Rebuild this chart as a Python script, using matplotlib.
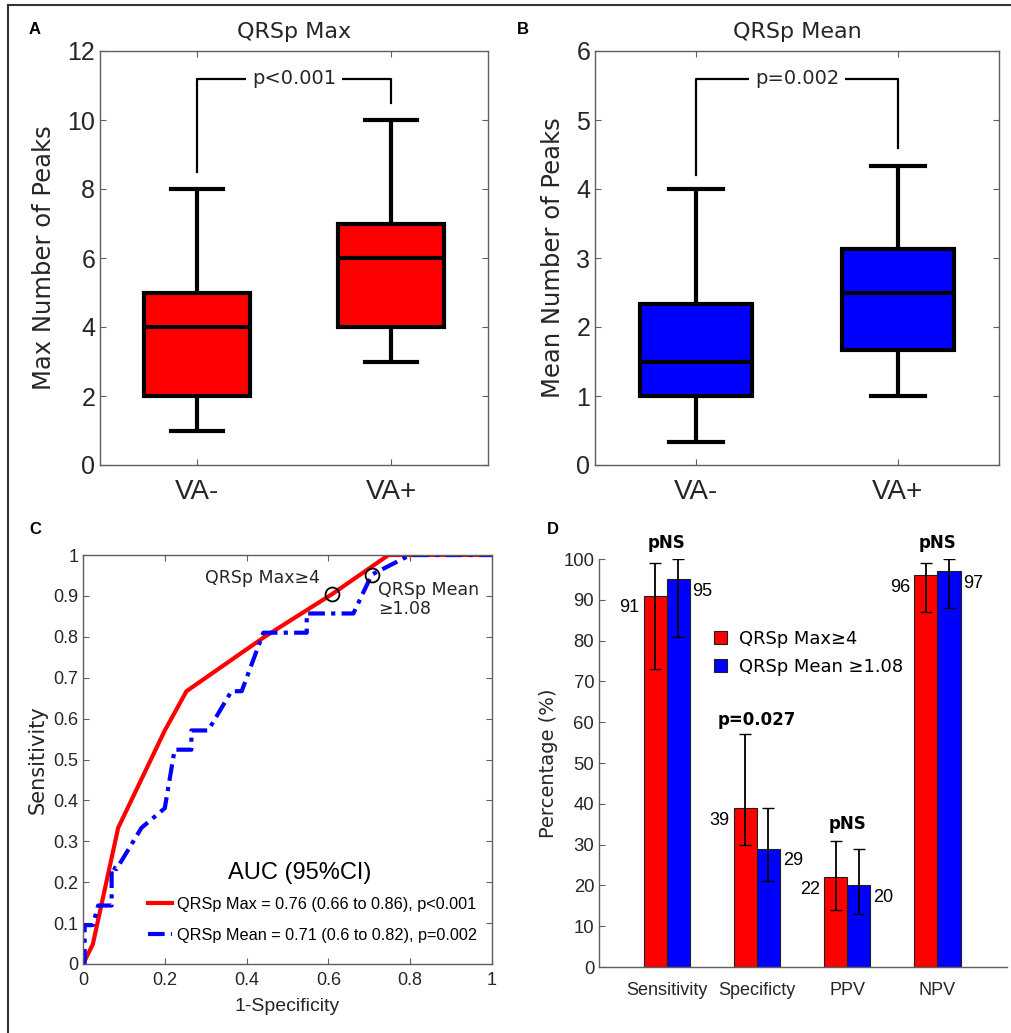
"""Four-panel QRS peak figure: box plots, ROC curves and diagnostic bars."""
import matplotlib.pyplot as plt
from matplotlib.lines import Line2D

# ---- data -------------------------------------------------------------
groups = ["VA-", "VA+"]

# panel A: max number of peaks
max_whislo = [1, 3]
max_q1 = [2, 4]
max_med = [4, 6]
max_q3 = [5, 7]
max_whishi = [8, 10]

# panel B: mean number of peaks
mean_whislo = [0.33, 1.0]
mean_q1 = [1.0, 1.67]
mean_med = [1.5, 2.5]
mean_q3 = [2.33, 3.13]
mean_whishi = [4.0, 4.33]

# panel C: ROC curves (1-specificity, sensitivity)
roc_max_fpr = [0, 0.024, 0.086, 0.2, 0.253, 0.444, 0.61, 0.747, 1.0]
roc_max_tpr = [0, 0.048, 0.333, 0.571, 0.667, 0.8, 0.905, 1.0, 1.0]
roc_mean_fpr = [0, 0.004, 0.004, 0.024, 0.037, 0.07, 0.07, 0.082, 0.143, 0.2,
                0.224, 0.265, 0.265, 0.306, 0.363, 0.388, 0.441, 0.547, 0.547,
                0.661, 0.706, 0.8, 1.0]
roc_mean_tpr = [0, 0, 0.095, 0.095, 0.143, 0.143, 0.238, 0.232, 0.333, 0.381,
                0.524, 0.524, 0.571, 0.571, 0.667, 0.667, 0.81, 0.81, 0.857,
                0.857, 0.952, 1.0, 1.0]
cut_max = (0.61, 0.905)
cut_mean = (0.706, 0.952)

# panel D: diagnostic performance
metrics = ["Sensitivity", "Specificty", "PPV", "NPV"]
pct_max = [91, 39, 22, 96]
pct_max_lo = [73, 30, 14, 87]
pct_max_hi = [99, 57, 31, 99]
pct_mean = [95, 29, 20, 97]
pct_mean_lo = [81, 21, 13, 88]
pct_mean_hi = [100, 39, 29, 100]
p_labels = ["pNS", "p=0.027", "pNS", "pNS"]
p_label_y = [104, 60.5, 35, 104]

# ---- style ------------------------------------------------------------
SANS = "Liberation Sans"
VERD = "DejaVu Sans"
SPINE = "#5f5f5f"
TXT = "#262626"
RED = "#ff0000"
BLUE = "#0000ff"

W, H = 1011, 1033
fig = plt.figure(figsize=(W / 100, H / 100), dpi=100)


def px_axes(left, top, right, bottom):
    """Add axes from pixel box (origin top-left)."""
    return fig.add_axes([left / W, 1 - bottom / H, (right - left) / W, (bottom - top) / H])


def style_box_axes(ax, fs):
    for sp in ax.spines.values():
        sp.set_color(SPINE)
        sp.set_linewidth(1.0)
    ax.tick_params(direction="in", length=4, width=0.8, color=SPINE,
                   top=True, right=True, labelcolor=TXT, labelsize=fs)
    for lab in ax.get_xticklabels() + ax.get_yticklabels():
        lab.set_family(SANS)


def draw_boxes(ax, lo, q1, med, q3, hi, color, ylim, yticks, ylabel, title,
               bracket, ptext):
    stats = [dict(whislo=a, q1=b, med=c, q3=d, whishi=e, fliers=[])
             for a, b, c, d, e in zip(lo, q1, med, q3, hi)]
    lw = 3
    ax.bxp(stats, positions=[1, 2], widths=0.55, patch_artist=True,
           showfliers=False, capwidths=0.27,
           boxprops=dict(facecolor=color, edgecolor="black", linewidth=lw),
           medianprops=dict(color="black", linewidth=lw),
           whiskerprops=dict(color="black", linewidth=lw, solid_capstyle="butt"),
           capprops=dict(color="black", linewidth=lw))
    ax.set_xlim(0.5, 2.5)
    ax.set_ylim(*ylim)
    ax.set_yticks(yticks)
    ax.set_xticks([1, 2])
    ax.set_xticklabels(groups)
    style_box_axes(ax, 18)
    ax.tick_params(axis="x", labelsize=20, pad=10)
    ax.set_ylabel(ylabel, family=VERD, fontsize=17.5, color=TXT, labelpad=8)
    ax.set_title(title, family=VERD, fontsize=16, color=TXT, pad=9)
    left_low, top_y, right_low = bracket
    ax.plot([1, 1, 2, 2], [left_low, top_y, top_y, right_low], color="black", lw=1.6)
    ax.text(1.5, top_y, ptext, ha="center", va="center", family=VERD,
            fontsize=14, color=TXT,
            bbox=dict(facecolor="white", edgecolor="none", pad=4))


# ---- panel A ----------------------------------------------------------
ax_a = px_axes(100, 51, 488, 465)
draw_boxes(ax_a, max_whislo, max_q1, max_med, max_q3, max_whishi, RED,
           (0, 12), range(0, 13, 2), "Max Number of Peaks", "QRSp Max",
           (8.5, 11.2, 10.5), "p<0.001")

# ---- panel B ----------------------------------------------------------
ax_b = px_axes(595, 51, 999, 465)
draw_boxes(ax_b, mean_whislo, mean_q1, mean_med, mean_q3, mean_whishi, BLUE,
           (0, 6), range(0, 7), "Mean Number of Peaks", "QRSp Mean",
           (4.2, 5.6, 4.6), "p=0.002")

# ---- panel C ----------------------------------------------------------
ax_c = px_axes(83, 555, 492, 964)
ax_c.plot(roc_max_fpr, roc_max_tpr, color=RED, lw=3, solid_joinstyle="miter",
          label="QRSp Max = 0.76 (0.66 to 0.86), p<0.001")
ax_c.plot(roc_mean_fpr, roc_mean_tpr, color=BLUE, lw=3,
          linestyle=(0, (4, 1.5, 1, 1.5)),
          label="QRSp Mean = 0.71 (0.6 to 0.82), p=0.002")
ax_c.plot(*cut_max, marker="o", ms=10, mfc="none", mec="black", mew=1.3)
ax_c.plot(*cut_mean, marker="o", ms=10, mfc="none", mec="black", mew=1.3)
ax_c.text(0.58, 0.943, "QRSp Max\u22654", ha="right", va="center",
          family=VERD, fontsize=12.5, color=TXT)
ax_c.text(0.722, 0.892, "QRSp Mean\n\u22651.08", ha="left", va="center",
          family=VERD, fontsize=12.5, color=TXT, linespacing=1.05)
ax_c.text(0.53, 0.222, "AUC (95%CI)", ha="center", va="center",
          family=SANS, fontsize=17, color="black")
ax_c.set_xlim(0, 1)
ax_c.set_ylim(0, 1)
ax_c.set_xticks([0, 0.2, 0.4, 0.6, 0.8, 1])
ax_c.set_xticklabels(["0", "0.2", "0.4", "0.6", "0.8", "1"])
ax_c.set_yticks([i / 10 for i in range(11)])
ax_c.set_yticklabels(["0"] + [f"0.{i}" for i in range(1, 10)] + ["1"])
style_box_axes(ax_c, 13)
ax_c.tick_params(axis="x", pad=6)
ax_c.set_xlabel("1-Specificity", family=SANS, fontsize=14, color=TXT, labelpad=6)
ax_c.set_ylabel("Sensitivity", family=VERD, fontsize=15, color=TXT, labelpad=4)
ax_c.legend(loc="center left", bbox_to_anchor=(0.159, 0.108), frameon=False,
            prop=dict(family=SANS, size=11.7), handlelength=1.5,
            handletextpad=0.3, labelspacing=1.0, borderpad=0, borderaxespad=0)

# ---- panel D ----------------------------------------------------------
ax_d = px_axes(599, 559, 1007, 967)
pos = list(range(1, len(metrics) + 1))
bw = 0.255
x_red = [p - bw / 2 for p in pos]
x_blue = [p + bw / 2 for p in pos]
err_red = [[v - lo for v, lo in zip(pct_max, pct_max_lo)],
           [hi - v for v, hi in zip(pct_max, pct_max_hi)]]
err_blue = [[v - lo for v, lo in zip(pct_mean, pct_mean_lo)],
            [hi - v for v, hi in zip(pct_mean, pct_mean_hi)]]
bars_red = ax_d.bar(x_red, pct_max, bw, color=RED, edgecolor="#202020", lw=0.8,
                    yerr=err_red, capsize=4.5,
                    error_kw=dict(ecolor="black", elinewidth=1.3, capthick=1.0),
                    label="QRSp Max\u22654")
bars_blue = ax_d.bar(x_blue, pct_mean, bw, color=BLUE, edgecolor="#202020", lw=0.8,
                     yerr=err_blue, capsize=4.5,
                     error_kw=dict(ecolor="black", elinewidth=1.3, capthick=1.0),
                     label="QRSp Mean \u22651.08")
for x, v in zip(x_red, pct_max):
    ax_d.text(x - bw / 2 - 0.05, v - 3, str(v), ha="right", va="center",
              family=SANS, fontsize=13, color="black")
for x, v in zip(x_blue, pct_mean):
    ax_d.text(x + bw / 2 + 0.03, v - 3, str(v), ha="left", va="center",
              family=SANS, fontsize=13, color="black")
for p, lab, y in zip(pos, p_labels, p_label_y):
    ax_d.text(p, y, lab, ha="center", va="center", family=VERD,
              fontsize=12, fontweight="bold", color="black", clip_on=False)
ax_d.set_xlim(0.25, 4.77)
ax_d.set_ylim(0, 100)
ax_d.set_yticks(range(0, 101, 10))
ax_d.set_xticks(pos)
ax_d.set_xticklabels(metrics)
for side in ("top", "right"):
    ax_d.spines[side].set_visible(False)
for side in ("left", "bottom"):
    ax_d.spines[side].set_color(SPINE)
    ax_d.spines[side].set_linewidth(1.0)
ax_d.tick_params(axis="y", direction="in", length=4, width=0.8, color=SPINE,
                 labelcolor=TXT, labelsize=13.3)
ax_d.tick_params(axis="x", length=0, labelcolor=TXT, labelsize=13, pad=11)
for lab in ax_d.get_xticklabels() + ax_d.get_yticklabels():
    lab.set_family(SANS)
ax_d.set_ylabel("Percentage (%)", family=VERD, fontsize=14, color=TXT, labelpad=4)
ax_d.legend(handles=[bars_red, bars_blue], loc="center left",
            bbox_to_anchor=(0.282, 0.77), frameon=False,
            prop=dict(family=VERD, size=12.9), handlelength=0.7, handleheight=0.7,
            handletextpad=0.7, labelspacing=0.55, borderpad=0, borderaxespad=0)

# ---- panel letters and frame -------------------------------------------
for letter, (x, y) in zip("ABCD", [(35, 30), (523, 30), (35, 530), (553, 530)]):
    fig.text(x / W, 1 - y / H, letter, family=SANS, fontsize=12,
             fontweight="bold", ha="center", va="center", color="black")
fig.add_artist(Line2D([8 / W, 8 / W], [0, 1 - 5 / H], color="#333333", lw=1.5))
fig.add_artist(Line2D([8 / W, 1], [1 - 5 / H, 1 - 5 / H], color="#333333", lw=1.5))

fig.savefig("out.png", dpi=100)
